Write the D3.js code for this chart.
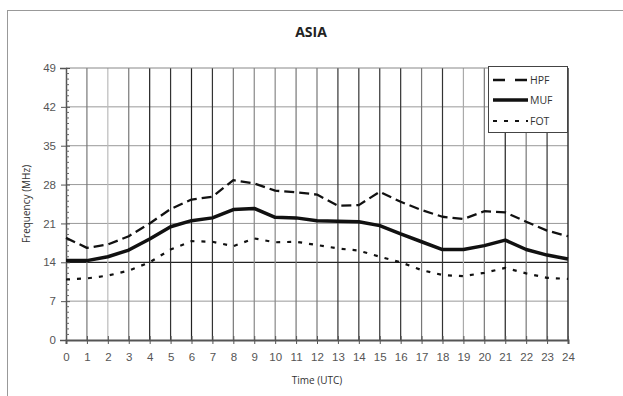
<!DOCTYPE html>
<html><head><meta charset="utf-8">
<script src="https://cdn.jsdelivr.net/npm/d3@7"></script>
<style>
html,body{margin:0;padding:0;background:#fff;}
svg{display:block;font-family:"Open Sans","DejaVu Sans",sans-serif;}
</style></head>
<body><svg id="c" width="623" height="396"></svg>
<script>
const hours = d3.range(0, 25);
const tickLabels = hours.map(String);
const yTicks = [0, 7, 14, 21, 28, 35, 42, 49];
const seriesNames = ["HPF", "MUF", "FOT"];
const hpf = [18.4,16.6,17.2,18.7,21.0,23.6,25.3,25.8,28.8,28.2,26.9,26.6,26.2,24.2,24.3,26.7,24.9,23.4,22.2,21.8,23.2,23.0,21.3,19.7,18.7];
const muf = [14.3,14.3,15.0,16.2,18.2,20.4,21.5,22.0,23.5,23.7,22.1,22.0,21.5,21.4,21.3,20.6,19.1,17.7,16.3,16.3,17.0,18.0,16.3,15.3,14.6];
const fot = [10.9,11.1,11.6,12.5,14.0,16.3,17.8,17.7,16.9,18.3,17.6,17.7,17.1,16.5,16.1,15.0,14.0,12.6,11.7,11.5,12.1,13.0,12.0,11.2,11.0];

// styling
const gridShade = ["#333","#777","#bbb","#777","#222","#333","#222","#333","#777","#888","#888","#777","#777","#333","#333","#333","#333","#777","#333","#aaa","#777","#222","#777","#333","#333"];

const svg = d3.select("#c");
const L = 66, R = 568, T = 68, B = 340;
const x = d3.scaleLinear().domain([0, 24]).range([L, R]);
const y = d3.scaleLinear().domain([0, 49]).range([B, T]);

// outer frame
svg.append("rect").attr("x", 7.5).attr("y", 10.5).attr("width", 700).attr("height", 500)
  .attr("fill", "none").attr("stroke", "#999").attr("stroke-width", 1);

// title
svg.append("text").attr("x", 311).attr("y", 37).attr("text-anchor", "middle")
  .attr("font-size", 14).attr("font-weight", "bold").attr("fill", "#222").text("ASIA");

// horizontal grid
svg.append("g").selectAll("line").data(yTicks.filter(d => d > 0 && d < 49)).join("line")
  .attr("x1", L).attr("x2", R).attr("y1", d => y(d)).attr("y2", d => y(d))
  .attr("stroke", d => d === 14 ? "#222" : "#999").attr("stroke-width", d => d === 14 ? 1.3 : 1);

// vertical grid
svg.append("g").selectAll("line").data(hours.filter(h => h > 0)).join("line")
  .attr("x1", d => x(d)).attr("x2", d => x(d)).attr("y1", T).attr("y2", B)
  .attr("stroke", d => gridShade[d]).attr("stroke-width", d => d === 24 ? 1.5 : 1.2);

// top border
svg.append("line").attr("x1", L).attr("x2", R).attr("y1", T).attr("y2", T).attr("stroke", "#888");

// y axis
const yAxis = d3.axisLeft(y).tickValues(yTicks).tickSize(6).tickPadding(4);
const gy = svg.append("g").attr("transform", `translate(${L},0)`).call(yAxis);
gy.select(".domain").attr("stroke", "#555").attr("stroke-width", 1.5);
gy.selectAll(".tick line").attr("stroke", "#555").attr("x2", -5).attr("x1", 4);
gy.selectAll(".tick text").attr("font-size", 11.5).attr("fill", "#555");
// minor ticks
svg.append("g").selectAll("line").data(d3.range(0, 50).filter(v => v % 7 !== 0)).join("line")
  .attr("x1", L).attr("x2", L + 3).attr("y1", d => y(d)).attr("y2", d => y(d))
  .attr("stroke", "#666").attr("stroke-width", 1);

// x axis
const xAxis = d3.axisBottom(x).tickValues(hours).tickFormat((d, i) => tickLabels[i]).tickSize(4).tickPadding(9);
const gx = svg.append("g").attr("transform", `translate(0,${B})`).call(xAxis);
gx.select(".domain").attr("stroke", "#555").attr("stroke-width", 2);
gx.selectAll(".tick line").attr("stroke", "#555").attr("y1", -4).attr("y2", 4);
gx.selectAll(".tick text").attr("font-size", 11.5).attr("fill", "#555");

// axis titles
svg.append("text").attr("x", 317).attr("y", 384).attr("text-anchor", "middle")
  .attr("font-size", 10).attr("fill", "#333").text("Time (UTC)");
svg.append("text").attr("transform", "translate(30,204) rotate(-90)").attr("text-anchor", "middle")
  .attr("font-size", 10).attr("fill", "#333").text("Frequency (MHz)");

// series
const line = d3.line().x((d, i) => x(hours[i])).y(d => y(d)).curve(d3.curveLinear);
const styles = [
  { data: hpf, w: 2.3, dash: "10,5" },
  { data: muf, w: 3.5, dash: null },
  { data: fot, w: 2.2, dash: "4,7" }
];
styles.forEach(s => {
  svg.append("path").datum(s.data).attr("d", line).attr("fill", "none")
    .attr("stroke", "#111").attr("stroke-width", s.w).attr("stroke-linejoin", "round")
    .attr("stroke-dasharray", s.dash);
});

// legend
const lg = svg.append("g");
lg.append("rect").attr("x", 488.5).attr("y", 66.5).attr("width", 79).attr("height", 66)
  .attr("fill", "#fff").attr("stroke", "#444").attr("stroke-width", 1);
const ly = [80, 100, 121];
const legDash = ["12,10", null, "4,7"];
seriesNames.forEach((n, i) => {
  lg.append("line").attr("x1", 493).attr("x2", 528).attr("y1", ly[i]).attr("y2", ly[i])
    .attr("stroke", "#111").attr("stroke-width", styles[i].w).attr("stroke-dasharray", legDash[i]);
  lg.append("text").attr("x", 530).attr("y", ly[i] + 4).attr("font-size", 10.5).attr("fill", "#333").text(n);
});
</script></body></html>
